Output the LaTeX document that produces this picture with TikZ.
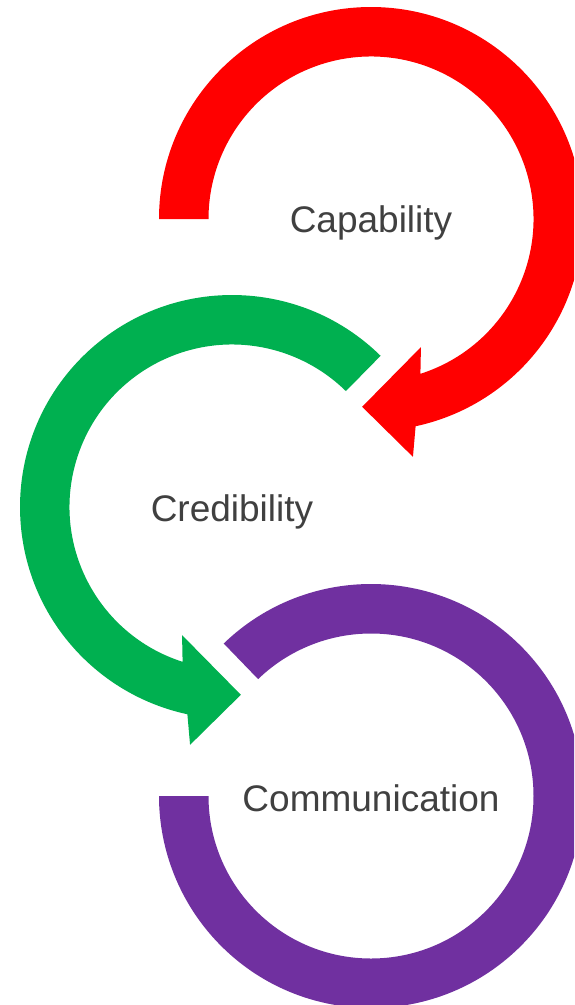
\documentclass[tikz,border=0pt]{standalone}
\usepackage{fontspec}
\setmainfont{Liberation Sans}
\definecolor{arrred}{HTML}{FF0000}
\definecolor{arrgreen}{HTML}{00B050}
\definecolor{arrpurple}{HTML}{7030A0}
\definecolor{labelgray}{HTML}{404040}
\begin{document}
\begin{tikzpicture}[x=1pt,y=1pt,
  label text/.style={text=labelgray, font=\fontsize{37}{44}\selectfont, anchor=base, inner sep=0pt}]
\useasboundingbox (0,0) rectangle (574,-1005);
\clip (0,0) rectangle (574,-1005);
\fill[white] (0,0) rectangle (574,-1005);

% red circular arrow (clockwise)
\begin{scope}[shift={(371,-219)}]
\fill[arrred] (180:212) arc[start angle=180, end angle=-77.85, radius=212]
  -- (-80:241.5) -- (-92.7:188) -- (-68.7:137.5) -- (-72.3:162.5)
  arc[start angle=-72.3, end angle=180, radius=162.5] -- cycle;
\end{scope}

% green circular arrow (counter-clockwise)
\begin{scope}[shift={(232,-507)}]
\fill[arrgreen] (45.5:212) arc[start angle=45.5, end angle=257.85, radius=212]
  -- (260:241.5) -- (272.7:188) -- (248.7:137.5) -- (252.3:162.5)
  arc[start angle=252.3, end angle=45.5, radius=162.5] -- cycle;
\end{scope}

% purple circular arrow (clockwise, no head visible)
\begin{scope}[shift={(371,-796)}]
\fill[arrpurple] (134:212) arc[start angle=134, end angle=-180, radius=212]
  -- (180:162.5) arc[start angle=-180, end angle=134, radius=162.5] -- cycle;
\end{scope}

\node[label text] (capability) at (371,-232) {Capability};
\node[label text] (credibility) at (232,-521) {Credibility};
\node[label text] (communication) at (371,-811) {Communication};
\end{tikzpicture}
\end{document}
